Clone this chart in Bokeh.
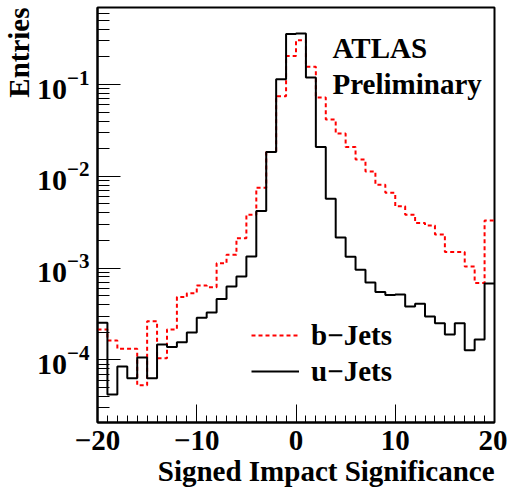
import numpy as np
from bokeh.plotting import figure
from bokeh.models import (Range1d, SingleIntervalTicker, LogTicker, Legend,
                          LegendItem, Title, Label)
from bokeh.embed import file_html
from bokeh.resources import INLINE

# ---- data ----
bin_edges = list(range(-20, 21))  # 40 bins of width 1

bjets = [2.15e-4, 1.63e-4, 1.32e-4, 1.32e-4, 5.3e-5, 2.64e-4, 1.04e-4, 2.15e-4,
         4.83e-4, 5.33e-4, 6.47e-4, 6.2e-4, 1.13e-3, 1.4e-3, 2.12e-3, 3.82e-3,
         7.5e-3, 1.84e-2, 7.45e-2, 2.05e-1,
         3.04e-1, 1.56e-1, 7.22e-2, 4.15e-2, 2.92e-2, 2.09e-2, 1.52e-2, 1.13e-2,
         8.1e-3, 6.6e-3, 4.71e-3, 3.82e-3, 3.1e-3, 2.92e-3, 2.33e-3, 1.5e-3,
         1.5e-3, 1.04e-3, 6.9e-4, 3.31e-3]

ujets = [2.54e-4, 4.2e-5, 8.5e-5, 6.3e-5, 1.06e-4, 6.3e-5, 1.47e-4, 1.38e-4,
         1.56e-4, 1.99e-4, 2.88e-4, 3.29e-4, 4.6e-4, 6.3e-4, 8.1e-4, 1.34e-3,
         4.19e-3, 1.84e-2, 1.14e-1, 3.56e-1,
         3.6e-1, 1.19e-1, 2.09e-2, 5.7e-3, 2.15e-3, 1.33e-3, 9.6e-4, 6.98e-4,
         5.48e-4, 5.08e-4, 5.16e-4, 3.82e-4, 4.09e-4, 2.97e-4, 2.51e-4, 1.89e-4,
         2.51e-4, 1.27e-4, 1.67e-4, 6.8e-4]

x_ticks = [-20, -10, 0, 10, 20]
x_tick_labels = ["\u221220", "\u221210", "0", "10", "20"]

series_names = ["b\u2212Jets", "u\u2212Jets"]

FONT = "Liberation Serif"
INK = "black"

p = figure(width=507, height=489, output_backend="svg", toolbar_location=None,
           y_axis_type="log",
           x_range=Range1d(-20, 20), y_range=Range1d(2.08e-5, 0.69),
           min_border_left=96, min_border_right=13, min_border_top=7,
           min_border_bottom=67)

p.background_fill_color = "white"
p.border_fill_color = "white"
p.outline_line_color = INK
p.outline_line_width = 2
p.grid.visible = False

# histograms as step outlines
rb = p.step(x=bin_edges, y=bjets + [bjets[-1]], mode="after",
            line_color="#ff0000", line_width=2, line_dash="4 3")
ru = p.step(x=bin_edges, y=ujets + [ujets[-1]], mode="after",
            line_color=INK, line_width=2)

# x axis
xa = p.xaxis[0]
xa.ticker = SingleIntervalTicker(interval=10, num_minor_ticks=10)
xa.major_label_overrides = {t: l for t, l in zip(x_ticks, x_tick_labels)}
xa.major_tick_in = 18
xa.major_tick_out = 0
xa.minor_tick_in = 7
xa.minor_tick_out = 0
xa.axis_line_width = 2
xa.axis_line_color = INK
xa.major_tick_line_color = INK
xa.minor_tick_line_color = INK
xa.major_label_text_color = INK
xa.major_label_text_font = FONT
xa.major_label_text_font_style = "bold"
xa.major_label_text_font_size = "29px"
xa.major_label_standoff = 8

# y axis
ya = p.yaxis[0]
ya.ticker = LogTicker(num_minor_ticks=10)
ya.major_tick_in = 23
ya.major_tick_out = 0
ya.minor_tick_in = 12
ya.minor_tick_out = 0
ya.axis_line_width = 2
ya.axis_line_color = INK
ya.major_tick_line_color = INK
ya.minor_tick_line_color = INK
ya.major_label_text_color = INK
ya.major_label_text_font = FONT
ya.major_label_text_font_style = "bold"
ya.major_label_text_font_size = "30px"
ya.major_label_standoff = 8

# axis titles (ROOT-style, aligned to the axis end)
p.add_layout(Title(text="Signed Impact Significance", align="right",
                   text_font=FONT, text_font_style="bold", text_color=INK,
                   text_font_size="29px", standoff=0), "below")
p.add_layout(Title(text="Entries", align="right",
                   text_font=FONT, text_font_style="bold", text_color=INK,
                   text_font_size="29px", standoff=0), "left")

# ATLAS label
for txt, yv in [("ATLAS", 0.249), ("Preliminary", 0.1007)]:
    p.add_layout(Label(x=3.68, y=yv, text=txt, text_font=FONT,
                       text_font_style="bold", text_font_size="29px",
                       text_color=INK,
                       text_baseline="alphabetic", text_align="left"))

legend = Legend(items=[LegendItem(label=series_names[0], renderers=[rb]),
                       LegendItem(label=series_names[1], renderers=[ru])],
                location=(154, 33), glyph_width=48, glyph_height=36,
                label_height=36, label_standoff=12, spacing=0, padding=0,
                margin=0, border_line_alpha=0, background_fill_alpha=0,
                label_text_font=FONT, label_text_font_style="bold",
                label_text_font_size="29px", label_text_color=INK)
p.add_layout(legend)

open("out.html", "w").write(file_html(p, INLINE))
